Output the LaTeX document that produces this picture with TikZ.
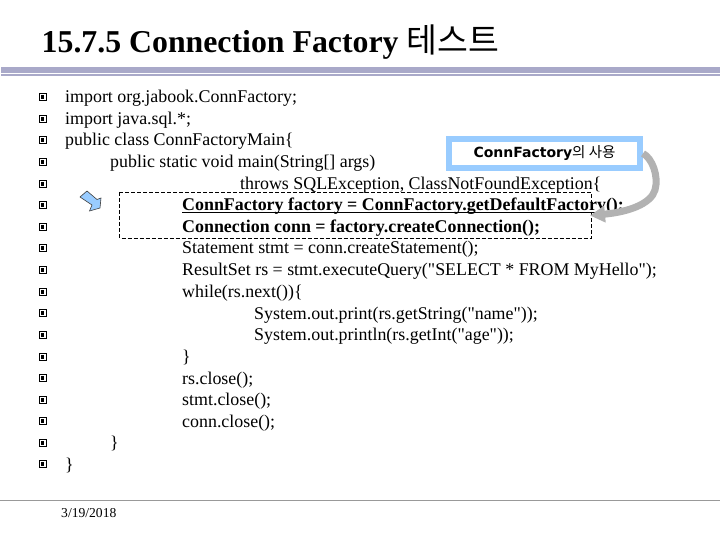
\documentclass[tikz,border=0pt]{standalone}
\usepackage{fontspec}
\usetikzlibrary{arrows.meta}
\setmainfont{Liberation Serif}
\newfontfamily\codefont{Liberation Serif}
\newfontfamily\krfont{Noto Sans CJK KR}
\newfontfamily\lblfont{DejaVu Sans}
\definecolor{bandc}{HTML}{A9A9C9}
\definecolor{framec}{HTML}{99CCFF}
\definecolor{arrowc}{HTML}{B2B2B2}
\tikzset{
 code/.style={anchor=base west,inner sep=0pt,font=\codefont\fontsize{17.9pt}{20pt}\selectfont,text=black},
 bcode/.style={code,font=\codefont\fontsize{17.9pt}{20pt}\selectfont\bfseries},
 bul/.style={draw=black,line width=1pt,minimum size=7pt,inner sep=0pt,fill=white,path picture={\fill[black] (path picture bounding box.center) ++(-1.7pt,-1.7pt) rectangle ++(3.4pt,3.4pt);}},
}
\begin{document}
\begin{tikzpicture}[x=1pt,y=-1pt]
\useasboundingbox (0,0) rectangle (720,540);
\fill[white] (0,0) rectangle (720,540);
\node[anchor=base west,inner sep=0pt,font=\fontsize{31.8pt}{34pt}\selectfont\bfseries] (title) at (41.5,52.5) {15.7.5 Connection Factory {\krfont\mdseries\fontsize{33.5pt}{34pt}\selectfont 테스트}};
\fill[bandc] (1,67) rectangle (720,73);
\fill[bandc] (1,74) rectangle (720,76);
\fill[gray!80] (0,499.6) rectangle (720,500.8);
\foreach \i/\y in {1/97,2/119,3/140,4/162,5/184,6/205,7/227,8/248,9/270,10/292,11/313,12/335,13/357,14/378,15/400,16/421,17/443,18/464}
  \node[bul] (b\i) at (42.5,\y) {};
\node[code] (l1) at (65,103) {import org.jabook.ConnFactory;};
\node[code] (l2) at (65,124.5) {import java.sql.*;};
\node[code] (l3) at (65,146) {public class ConnFactoryMain\{};
\node[code] (l4) at (110,167.5) {public static void main(String[] args)};
\node[code] (l5) at (240,189.5) {throws SQLException, ClassNotFoundException\{};
\node[bcode] (l6) at (182,211) {ConnFactory factory = ConnFactory.getDefaultFactory();};
\node[bcode] (l7) at (182,232.5) {Connection conn = factory.createConnection();};
\node[code] (l8) at (182,254) {Statement stmt = conn.createStatement();};
\node[code] (l9) at (182,275.5) {ResultSet rs = stmt.executeQuery("SELECT * FROM MyHello");};
\node[code] (l10) at (182,297.5) {while(rs.next())\{};
\node[code] (l11) at (254,319) {System.out.print(rs.getString("name"));};
\node[code] (l12) at (254,340.5) {System.out.println(rs.getInt("age"));};
\node[code] (l13) at (182,362) {\}};
\node[code] (l14) at (182,384) {rs.close();};
\node[code] (l15) at (182,405.5) {stmt.close();};
\node[code] (l16) at (182,427) {conn.close();};
\node[code] (l17) at (110,448.5) {\}};
\node[code] (l18) at (65,470) {\}};
\draw[black,line width=1pt] (182,212.8) -- (627,212.8);
\draw[black,line width=0.9pt,dash pattern=on 4pt off 2pt] (119.5,192) rectangle (591,238);
\node[draw=framec,line width=6pt,fill=white,minimum width=191pt,minimum height=29.5pt,inner sep=0pt,font=\lblfont\bfseries\fontsize{14pt}{15pt}\selectfont] (lbl) at (544.5,153.5) {ConnFactory{\krfont\mdseries\fontsize{14.5pt}{15pt}\selectfont 의 사용}};
\coordinate (tip) at (590,215.5);
\draw[arrowc,line width=7pt,-{Triangle[length=15pt,width=16pt]}] (lbl.east) .. controls (652,158) and (659,176) .. (655,190) .. controls (651,204) and (628,212) .. (tip);
\filldraw[fill=framec,draw=black!75,line width=0.6pt] (80,197) -- (87,191) -- (97,199.5) -- (101,198) -- (100,208) -- (89.5,211) -- (92,205) -- cycle;
\node[anchor=base west,inner sep=0pt,font=\fontsize{13.6pt}{15pt}\selectfont] (date) at (61,517) {3/19/2018};
\end{tikzpicture}
\end{document}
